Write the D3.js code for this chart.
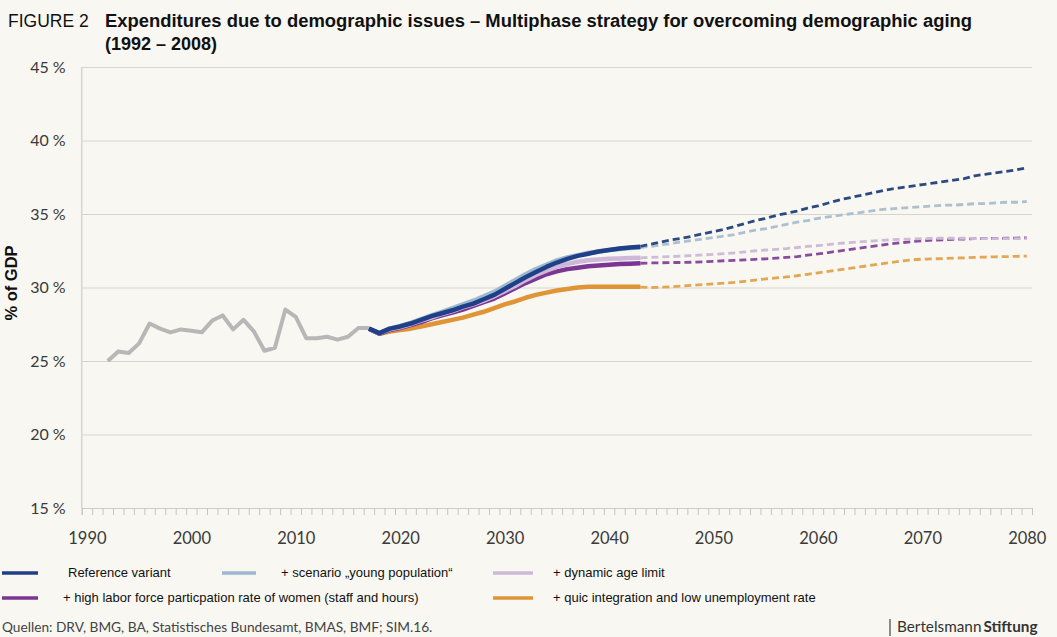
<!DOCTYPE html>
<html>
<head>
<meta charset="utf-8">
<script src="https://cdn.jsdelivr.net/npm/d3@7"></script>
<style>
  html, body { margin: 0; padding: 0; background: #f8f7f1; }
  svg { display: block; }
  .tick text { font-family: Lato, sans-serif; fill: #3a3a3a; }
</style>
</head>
<body>
<div id="chart"></div>
<script>
// historical values 1992-2017
const histYears = d3.range(1992, 2018);
const histValues = [25.0, 25.65, 25.55, 26.2, 27.55, 27.2, 26.95, 27.15, 27.06, 26.95, 27.75, 28.1, 27.15,
  27.8, 27.0, 25.7, 25.9, 28.5, 28.0, 26.55, 26.55, 26.65, 26.45, 26.65, 27.25, 27.25];

// model years (solid) 2017-2043 and projection (dashed) 2043-2080
const solidYears = d3.range(2017, 2044);
const dashYears = d3.range(2043, 2081);

const refSolid = [27.2, 26.9, 27.2, 27.35, 27.55, 27.8, 28.05, 28.25, 28.45, 28.7, 28.9, 29.2, 29.5, 29.9,
  30.3, 30.7, 31.05, 31.4, 31.7, 31.95, 32.15, 32.3, 32.45, 32.55, 32.65, 32.72, 32.78];
const youngSolid = [27.2, 26.9, 27.2, 27.38, 27.6, 27.85, 28.1, 28.35, 28.6, 28.85, 29.1, 29.4, 29.7, 30.1,
  30.5, 30.9, 31.25, 31.55, 31.85, 32.05, 32.2, 32.35, 32.45, 32.55, 32.62, 32.68, 32.72];
const ageSolid = [27.2, 26.9, 27.15, 27.3, 27.5, 27.75, 27.95, 28.2, 28.4, 28.65, 28.85, 29.1, 29.4, 29.75,
  30.1, 30.5, 30.85, 31.15, 31.4, 31.6, 31.75, 31.85, 31.9, 31.95, 31.98, 32.0, 32.02];
const womenSolid = [27.2, 26.85, 27.1, 27.25, 27.45, 27.65, 27.9, 28.1, 28.3, 28.5, 28.75, 29.0, 29.25, 29.6,
  29.95, 30.3, 30.6, 30.9, 31.1, 31.25, 31.35, 31.45, 31.5, 31.55, 31.6, 31.62, 31.65];
const integSolid = [27.2, 26.85, 27.0, 27.1, 27.2, 27.35, 27.5, 27.65, 27.8, 27.95, 28.15, 28.35, 28.6, 28.85,
  29.05, 29.3, 29.5, 29.65, 29.8, 29.9, 30.0, 30.05, 30.05, 30.05, 30.05, 30.05, 30.05];

const refDash = [32.8, 32.95, 33.1, 33.25, 33.35, 33.5, 33.65, 33.8, 33.95, 34.15, 34.35, 34.55, 34.7, 34.9,
  35.05, 35.2, 35.4, 35.55, 35.75, 35.95, 36.1, 36.25, 36.4, 36.55, 36.7, 36.8, 36.9, 37.0, 37.1, 37.2, 37.3,
  37.4, 37.6, 37.7, 37.8, 37.9, 38.0, 38.15];
const youngDash = [32.72, 32.8, 32.9, 33.0, 33.1, 33.2, 33.3, 33.4, 33.5, 33.6, 33.75, 33.9, 34.0, 34.15,
  34.3, 34.45, 34.55, 34.7, 34.8, 34.9, 35.0, 35.1, 35.2, 35.3, 35.35, 35.4, 35.45, 35.5, 35.55, 35.6, 35.6,
  35.65, 35.7, 35.7, 35.75, 35.8, 35.8, 35.85];
const ageDash = [32.02, 32.05, 32.08, 32.1, 32.15, 32.18, 32.22, 32.25, 32.3, 32.35, 32.42, 32.5, 32.55, 32.6,
  32.65, 32.72, 32.8, 32.85, 32.92, 33.0, 33.05, 33.1, 33.15, 33.2, 33.25, 33.28, 33.3, 33.32, 33.35, 33.35,
  33.35, 33.35, 33.33, 33.33, 33.32, 33.32, 33.33, 33.33];
const womenDash = [31.65, 31.67, 31.68, 31.7, 31.7, 31.72, 31.75, 31.78, 31.82, 31.85, 31.88, 31.92, 31.95, 32.0,
  32.05, 32.1, 32.2, 32.28, 32.38, 32.48, 32.58, 32.68, 32.78, 32.88, 32.98, 33.05, 33.12, 33.18, 33.22, 33.25,
  33.28, 33.3, 33.32, 33.33, 33.34, 33.35, 33.36, 33.38];
const integDash = [30.03, 30.0, 30.02, 30.05, 30.1, 30.15, 30.2, 30.25, 30.3, 30.35, 30.42, 30.5, 30.58, 30.65,
  30.72, 30.8, 30.9, 31.0, 31.1, 31.2, 31.3, 31.4, 31.5, 31.6, 31.7, 31.8, 31.88, 31.93, 31.95, 31.97, 32.0,
  32.02, 32.05, 32.07, 32.09, 32.1, 32.12, 32.14];

const yTicks = [15, 20, 25, 30, 35, 40, 45];
const xTicks = [1990, 2000, 2010, 2020, 2030, 2040, 2050, 2060, 2070, 2080];

const series = [
  {name: '+ quic integration and low unemployment rate', solid: integSolid, dash: integDash, color: '#df9436', dashColor: '#e3a652'},
  {name: '+ high labor force particpation rate of women (staff and hours)', solid: womenSolid, dash: womenDash, color: '#7b3694', dashColor: '#8a4b9e'},
  {name: '+ dynamic age limit', solid: ageSolid, dash: ageDash, color: '#cdb8d9', dashColor: '#cdbcd8'},
  {name: '+ scenario \u201eyoung population\u201c', solid: youngSolid, dash: youngDash, color: '#9bb9cf', dashColor: '#adc0cf'},
  {name: 'Reference variant', solid: refSolid, dash: refDash, color: '#1f3f88', dashColor: '#2d4a80'}
];

const W = 1057, H = 637;
const svg = d3.select('#chart').append('svg').attr('width', W).attr('height', H);
svg.append('rect').attr('width', W).attr('height', H).attr('fill', '#f8f7f1');

const x = d3.scaleLinear().domain([1989.5, 2080.5]).range([81.7, 1032]);
const y = d3.scaleLinear().domain([15, 45]).range([508, 67]);

// gridlines + y labels
const yAxis = svg.append('g')
  .attr('transform', `translate(${x.range()[0]},0)`)
  .call(d3.axisLeft(y).tickValues(yTicks).tickSize(-(x.range()[1] - x.range()[0])).tickPadding(16)
    .tickFormat(d => d + ' %'));
yAxis.select('.domain').remove();
yAxis.selectAll('.tick line').attr('stroke', '#d6d5d0').attr('stroke-width', 1.2);
yAxis.selectAll('.tick text').attr('font-size', 16);

svg.append('line')
  .attr('x1', x.range()[0]).attr('x2', x.range()[0])
  .attr('y1', y(45)).attr('y2', y(15))
  .attr('stroke', '#d6d5d0').attr('stroke-width', 1.5);

// x axis: minor ticks at year boundaries
const xMinor = svg.append('g')
  .attr('transform', `translate(0,${y(15)})`)
  .call(d3.axisBottom(x).tickValues(d3.range(1989.5, 2081, 1)).tickSize(7).tickFormat(''));
xMinor.select('.domain').attr('stroke', '#cfcec9');
xMinor.selectAll('.tick line').attr('stroke', '#c6c5c0');

const xLab = svg.append('g')
  .attr('transform', `translate(0,${y(15)})`)
  .call(d3.axisBottom(x).tickValues(xTicks).tickSize(0).tickPadding(24).tickFormat(d3.format('d')));
xLab.select('.domain').remove();
xLab.selectAll('.tick text').attr('font-size', 16.5);

const line = d3.line().x(d => x(d[0])).y(d => y(d[1]));

// historical
svg.append('path')
  .datum(histYears.map((yr, i) => [yr, histValues[i]]))
  .attr('d', line)
  .attr('fill', 'none').attr('stroke', '#b7b7b7').attr('stroke-width', 4)
  .attr('stroke-linejoin', 'round');

// dashed projections
for (const s of series) {
  svg.append('path')
    .datum(dashYears.map((yr, i) => [yr, s.dash[i]]))
    .attr('d', line)
    .attr('fill', 'none').attr('stroke', s.dashColor).attr('stroke-width', 2.8)
    .attr('stroke-dasharray', '7,4');
}
// solid model lines
for (const s of series) {
  svg.append('path')
    .datum(solidYears.map((yr, i) => [yr, s.solid[i]]))
    .attr('d', line)
    .attr('fill', 'none').attr('stroke', s.color).attr('stroke-width', 4.5)
    .attr('stroke-linejoin', 'round');
}

// titles
const sans = 'Liberation Sans, Arial, sans-serif';
svg.append('text').attr('x', 8).attr('y', 27)
  .attr('font-family', sans).attr('font-size', 17.5).attr('fill', '#111')
  .text('FIGURE 2');
svg.append('text').attr('x', 105).attr('y', 27)
  .attr('font-family', sans).attr('font-size', 18).attr('font-weight', 'bold').attr('fill', '#111')
  .attr('textLength', 867).attr('lengthAdjust', 'spacingAndGlyphs')
  .text('Expenditures due to demographic issues \u2013 Multiphase strategy for overcoming demographic aging');
svg.append('text').attr('x', 105).attr('y', 50)
  .attr('font-family', sans).attr('font-size', 18).attr('font-weight', 'bold').attr('fill', '#111')
  .text('(1992 \u2013 2008)');
svg.append('text')
  .attr('transform', 'translate(17,283) rotate(-90)')
  .attr('text-anchor', 'middle')
  .attr('font-family', sans).attr('font-size', 16.5).attr('font-weight', 'bold').attr('fill', '#111')
  .text('% of GDP');

// legend
const byName = Object.fromEntries(series.map(s => [s.name, s]));
const legend = [
  {s: byName['Reference variant'], x1: 2, x2: 38, tx: 68, y: 573},
  {s: byName['+ scenario \u201eyoung population\u201c'], x1: 222, x2: 256, tx: 281, y: 573},
  {s: byName['+ dynamic age limit'], x1: 493, x2: 533, tx: 553, y: 573},
  {s: byName['+ high labor force particpation rate of women (staff and hours)'], x1: 2, x2: 38, tx: 63, y: 598},
  {s: byName['+ quic integration and low unemployment rate'], x1: 493, x2: 533, tx: 553, y: 598}
];
const lg = svg.append('g').selectAll('g').data(legend).join('g');
lg.append('line')
  .attr('x1', d => d.x1).attr('x2', d => d.x2)
  .attr('y1', d => d.y).attr('y2', d => d.y)
  .attr('stroke', d => d.s.color).attr('stroke-width', 3.5);
lg.append('text')
  .attr('x', d => d.tx).attr('y', d => d.y + 4)
  .attr('font-family', sans).attr('font-size', 13).attr('fill', '#111')
  .text(d => d.s.name);

// footer
svg.append('text').attr('x', 2).attr('y', 632)
  .attr('font-family', 'Lato, sans-serif').attr('font-size', 13.7).attr('fill', '#444')
  .text('Quellen: DRV, BMG, BA, Statistisches Bundesamt, BMAS, BMF; SIM.16.');
svg.append('line').attr('x1', 890).attr('x2', 890).attr('y1', 619).attr('y2', 636)
  .attr('stroke', '#444').attr('stroke-width', 1.2);
const brand = svg.append('text').attr('x', 897).attr('y', 632)
  .attr('font-family', 'Lato, sans-serif').attr('font-size', 15.3).attr('fill', '#333');
brand.append('tspan').text('Bertelsmann');
brand.append('tspan').attr('font-weight', 'bold').attr('dx', 2).text('Stiftung');
</script>
</body>
</html>
